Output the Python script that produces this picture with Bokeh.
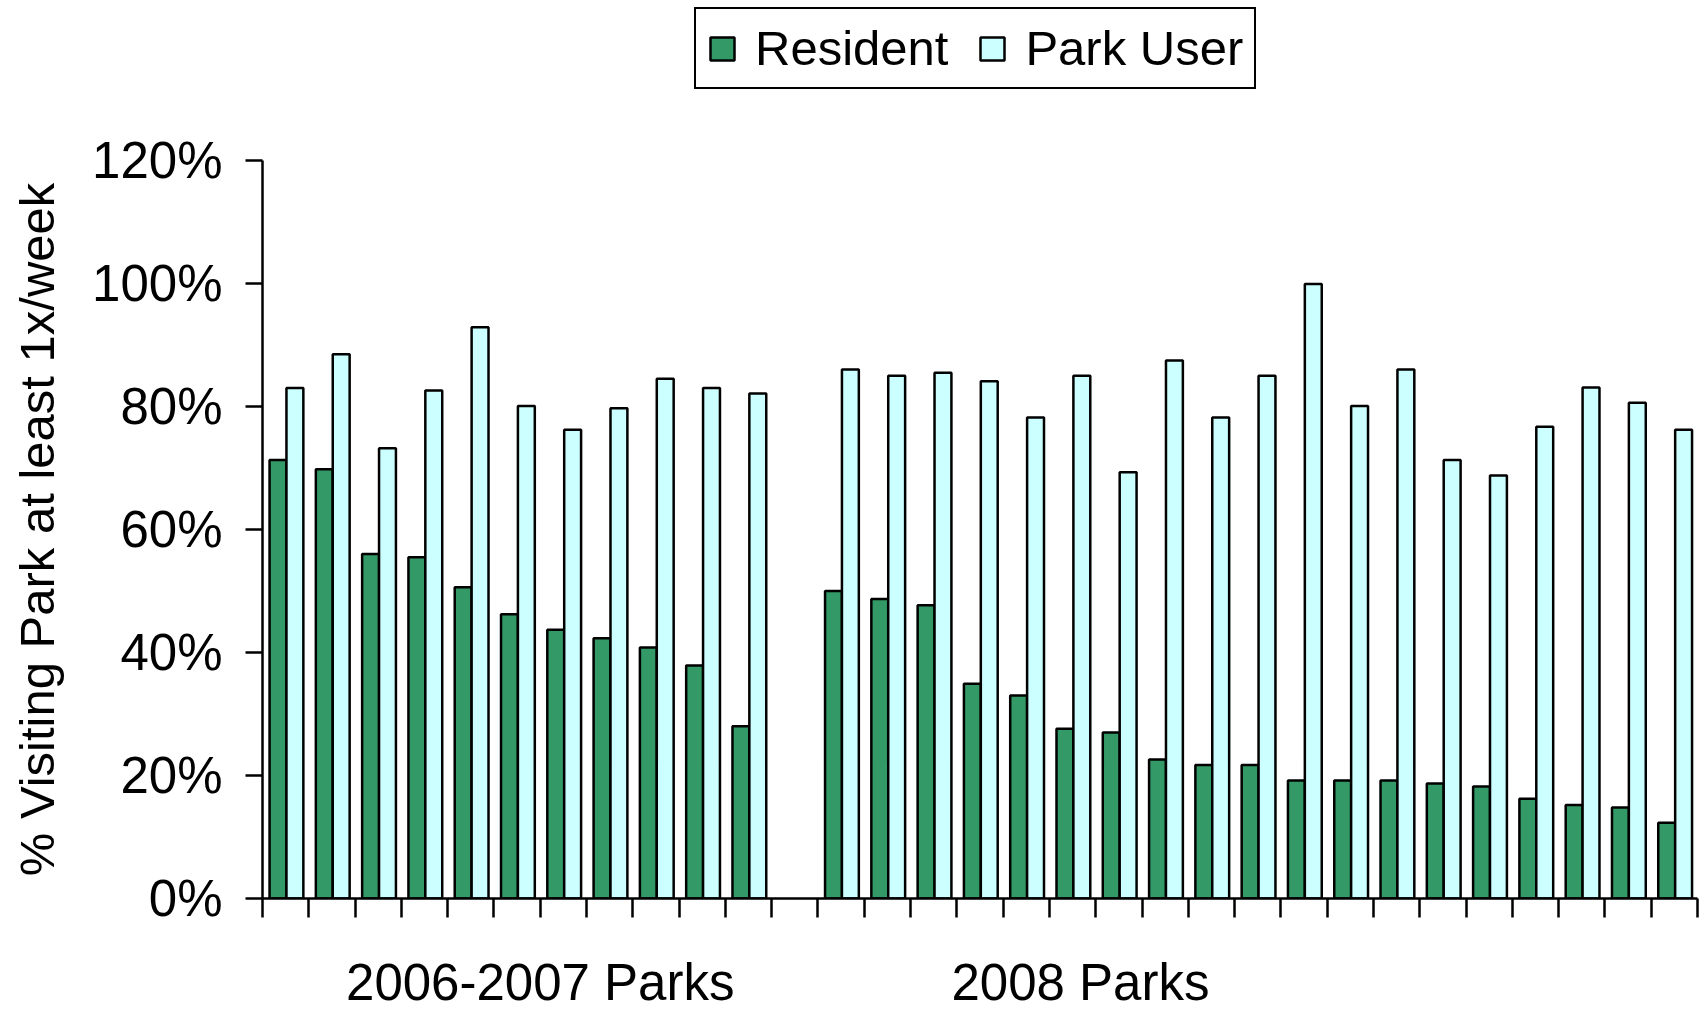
from bokeh.plotting import figure
from bokeh.layouts import column
from bokeh.models import (ColumnDataSource, Range1d, FixedTicker, PrintfTickFormatter,
                          CustomJSTickFormatter, Legend, LegendItem)
from bokeh.transform import dodge
from bokeh.embed import file_html
from bokeh.resources import INLINE

# ---------------- data ----------------
group_names = ["2006-2007 Parks", "2008 Parks"]
resident_2006_2007 = [71.3, 69.8, 56.0, 55.5, 50.6, 46.2, 43.7, 42.3, 40.8, 37.9, 28.0]
park_user_2006_2007 = [83.0, 88.5, 73.2, 82.6, 92.9, 80.1, 76.2, 79.7, 84.5, 83.0, 82.1]
resident_2008 = [50.0, 48.7, 47.7, 34.9, 33.0, 27.6, 27.0, 22.6, 21.7, 21.7,
                 19.2, 19.2, 19.2, 18.7, 18.2, 16.2, 15.2, 14.8, 12.3]
park_user_2008 = [86.0, 85.0, 85.5, 84.1, 78.2, 85.0, 69.3, 87.5, 78.2, 85.0,
                  99.9, 80.1, 86.0, 71.3, 68.8, 76.7, 83.1, 80.6, 76.2]
series_names = ["Resident", "Park User"]
y_ticks = [0, 20, 40, 60, 80, 100, 120]

# ---------------- layout of categories ----------------
n1 = len(resident_2006_2007)
n2 = len(resident_2008)
gap = 1
n_total = n1 + gap + n2
slots = list(range(n1)) + [n1 + gap + i for i in range(n2)]
src = ColumnDataSource(dict(
    x=[s + 0.5 for s in slots],
    res=resident_2006_2007 + resident_2008,
    pu=park_user_2006_2007 + park_user_2008,
))

FONT = "Liberation Sans"
GREEN = "#339966"
CYAN = "#CCFFFF"
LW = 2.5

W, H = 1701, 1013
LEG_H = 100                      # height of the legend strip on top
BL, BR, BT, BB = 262, 4, 160 - LEG_H, 111

# ---------------- main chart ----------------
p = figure(width=W, height=H - LEG_H, output_backend="svg", toolbar_location=None,
           x_range=Range1d(0, n_total), y_range=Range1d(0, 120),
           min_border_left=BL, min_border_right=BR, min_border_top=BT, min_border_bottom=BB)
p.outline_line_color = None
p.xgrid.visible = False
p.ygrid.visible = False
p.background_fill_color = "white"
p.border_fill_color = "white"

bw = 0.365
bar_style_res = dict(fill_color=GREEN, line_color="black", line_width=LW)
bar_style_pu = dict(fill_color=CYAN, line_color="black", line_width=LW)
p.vbar(x=dodge("x", -0.165, range=p.x_range), top="res", width=bw, bottom=0, source=src,
       **bar_style_res)
p.vbar(x=dodge("x", 0.2, range=p.x_range), top="pu", width=bw, bottom=0, source=src,
       **bar_style_pu)

# y axis
ya = p.yaxis[0]
ya.ticker = FixedTicker(ticks=y_ticks)
ya.formatter = PrintfTickFormatter(format="%d%%")
ya.axis_label = "% Visiting Park at least 1x/week"
ya.axis_label_text_font = FONT
ya.axis_label_text_font_size = "49px"
ya.axis_label_text_font_style = "normal"
ya.axis_label_text_color = "black"
ya.axis_label_standoff = 25
ya.major_label_text_font = FONT
ya.major_label_text_font_size = "51px"
ya.major_label_text_color = "black"
ya.major_label_standoff = 23
ya.major_tick_out = 17
ya.major_tick_in = 0
ya.major_tick_line_width = LW
ya.major_tick_line_color = "black"
ya.minor_tick_line_color = None
ya.axis_line_width = LW
ya.axis_line_color = "black"

# x axis: boundary ticks as minor ticks, group labels as major labels
xa = p.xaxis[0]
label_pos = [6.0, 17.67]
xa.ticker = FixedTicker(ticks=label_pos, minor_ticks=list(range(n_total + 1)))
xa.formatter = CustomJSTickFormatter(args=dict(names=group_names, split=n1 + gap),
                                     code="return tick < split ? names[0] : names[1];")
xa.major_tick_line_color = None
xa.major_tick_out = 0
xa.major_tick_in = 0
xa.minor_tick_out = 19
xa.minor_tick_in = 0
xa.minor_tick_line_width = LW
xa.minor_tick_line_color = "black"
xa.major_label_text_font = FONT
xa.major_label_text_font_size = "51px"
xa.major_label_text_color = "black"
xa.major_label_standoff = 36
xa.axis_line_width = LW
xa.axis_line_color = "black"

# ---------------- legend strip (frame aligned with the chart's frame) ----------------
# The key renderers share the chart's data; the strip's ranges squeeze them into a
# tiny patch that sits entirely behind the opaque legend box.
pl = figure(width=W, height=LEG_H, output_backend="svg", toolbar_location=None,
            x_range=Range1d(-1000, 1000), y_range=Range1d(-100, 300),
            min_border_left=BL, min_border_right=BR, min_border_top=0, min_border_bottom=0)
pl.axis.visible = False
pl.xgrid.visible = False
pl.ygrid.visible = False
pl.outline_line_color = None
pl.background_fill_color = "white"
pl.border_fill_color = "white"
key_res = pl.vbar(x=dodge("x", -0.165, range=pl.x_range), top="res", width=bw, bottom=0,
                  source=src, **bar_style_res)
key_pu = pl.vbar(x=dodge("x", 0.2, range=pl.x_range), top="pu", width=bw, bottom=0,
                 source=src, **bar_style_pu)

lg = Legend(items=[LegendItem(label=series_names[0], renderers=[key_res], index=0),
                   LegendItem(label=series_names[1], renderers=[key_pu], index=0)],
            orientation="horizontal", location=(432, 11))
lg.label_text_font = FONT
lg.label_text_font_size = "49px"
lg.label_text_color = "black"
lg.glyph_width = 30
lg.glyph_height = 29
lg.label_standoff = 18
lg.spacing = 29
lg.padding = 11
lg.margin = 0
lg.border_line_color = "black"
lg.border_line_alpha = 1.0
lg.border_line_width = LW
lg.background_fill_color = "white"
lg.background_fill_alpha = 1.0
pl.add_layout(lg, "center")

layout = column(pl, p, spacing=0)
open("out.html", "w").write(file_html(layout, INLINE))
